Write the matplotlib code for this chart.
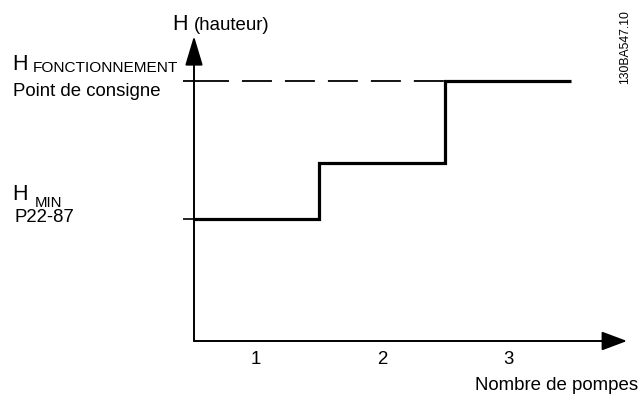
import matplotlib
matplotlib.use("Agg")
import matplotlib.pyplot as plt

plt.rcParams['font.family'] = ['Liberation Sans', 'DejaVu Sans']

# Data
pumps = [1, 2, 3]
pump_labels = ["1", "2", "3"]
heads = [1.22, 1.78, 2.60]          # head level reached with 1, 2, 3 pumps
h_min = 1.22
h_setpoint = 2.60

fig = plt.figure(figsize=(6.41, 3.94), dpi=100)
ax = fig.add_axes([0, 0, 1, 1])
# map: x data -> pixels (x=1 at px 256, 126 px/unit); y data -> (341 - py)/100
ax.set_xlim(1 + (0 - 256) / 126, 1 + (641 - 256) / 126)
ax.set_ylim((341 - 394) / 100, 341 / 100)
ax.axis('off')


def px(x):
    return 1 + (x - 256) / 126


def py(y):
    return (341 - y) / 100


FS = 13.4

x0 = px(194)     # origin of the axes
x_end = px(627)
y_end = py(36)

# axes arrows
ax.annotate('', xy=(x_end, 0), xytext=(x0, 0),
            arrowprops=dict(arrowstyle='-|>,head_length=1.2,head_width=0.45',
                            color='black', lw=1.4, shrinkA=0, shrinkB=0,
                            mutation_scale=13))
ax.annotate('', xy=(x0, y_end), xytext=(x0, 0),
            arrowprops=dict(arrowstyle='-|>,head_length=1.4,head_width=0.42',
                            color='black', lw=1.4, shrinkA=0, shrinkB=0,
                            mutation_scale=13))

# y ticks for H_min and set point
ax.plot([px(183), x0], [h_min, h_min], color='black', lw=1.2, solid_capstyle='butt')
ax.plot([px(183), px(199)], [h_setpoint, h_setpoint], color='black', lw=1.3,
        solid_capstyle='butt')

# dashed set point line
ax.plot([px(199), 2.5], [h_setpoint, h_setpoint], color='black', lw=1.3,
        linestyle=(0, (16.6, 7.2)), dash_capstyle='butt')

# staircase
edges = [x0] + [p + 0.5 for p in pumps]
ax.stairs(heads, edges, baseline=None, color='black', lw=2.3)

# x tick labels
for p, lab in zip(pumps, pump_labels):
    ax.text(p, py(359), lab, ha='center', va='center', fontsize=FS)

ax.text(px(638), py(386), "Nombre de pompes", ha='right', va='center', fontsize=FS)

# y label
ax.text(px(172), py(24), "H", ha='left', va='center', fontsize=15.5)
ax.text(px(194), py(25), "(hauteur)", ha='left', va='center', fontsize=FS)

# H fonctionnement
ax.text(px(12), py(64), "H", ha='left', va='center', fontsize=15.5)
ax.text(px(33), py(68), "FONCTIONNEMENT", ha='left', va='center', fontsize=11.1)
ax.text(px(13), py(92), "Point de consigne", ha='left', va='center', fontsize=FS)

# H min
ax.text(px(12), py(195), "H", ha='left', va='center', fontsize=15.5)
ax.text(px(35), py(203), "MIN", ha='left', va='center', fontsize=10.8)
ax.text(px(15), py(218), "P22-87", ha='left', va='center', fontsize=FS)

# document reference
ax.text(px(625), py(47), "130BA547.10", rotation=90,
        ha='center', va='center', fontsize=8.8)

fig.savefig("out.png", dpi=100)
